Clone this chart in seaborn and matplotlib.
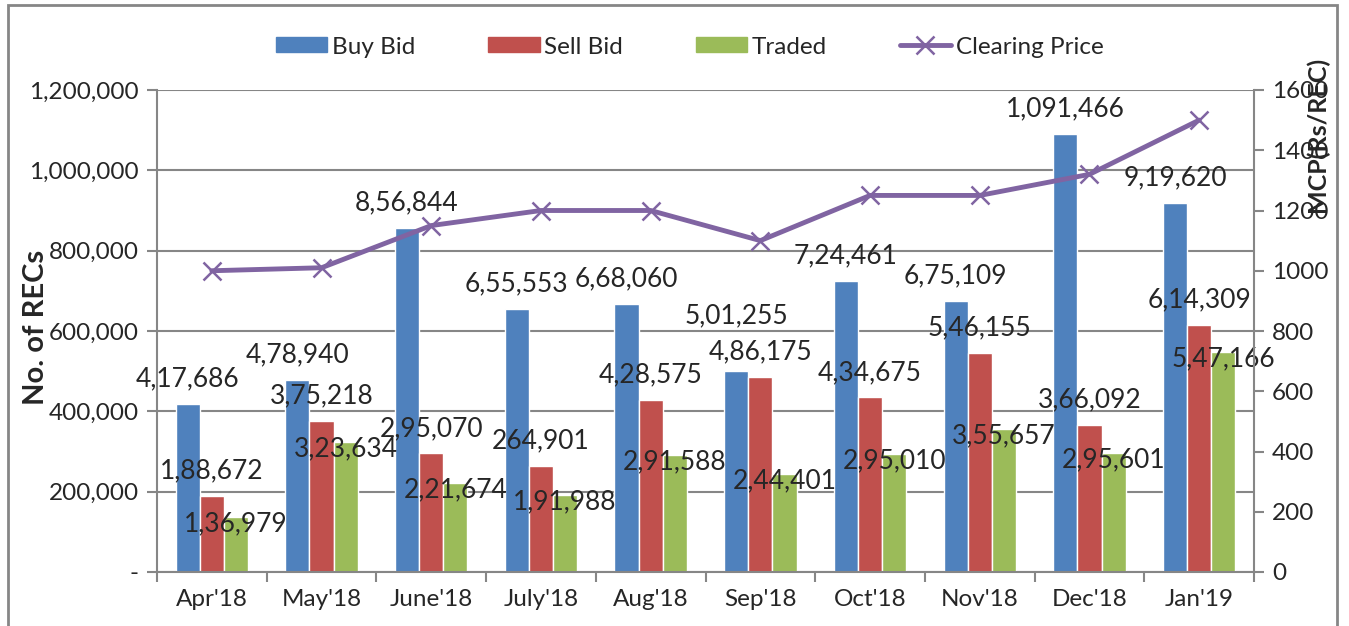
import numpy as np
import pandas as pd
import seaborn as sns
import matplotlib.pyplot as plt
from matplotlib.patches import Rectangle, Patch
from matplotlib.lines import Line2D
from matplotlib.ticker import FuncFormatter, MultipleLocator, FixedLocator

# данные по месяцам
months = ["Apr'18", "May'18", "June'18", "July'18", "Aug'18",
          "Sep'18", "Oct'18", "Nov'18", "Dec'18", "Jan'19"]
buy_bid = [417686, 478940, 856844, 655553, 668060, 501255, 724461, 675109, 1091466, 919620]
sell_bid = [188672, 375218, 295070, 264901, 428575, 486175, 434675, 546155, 366092, 614309]
traded = [136979, 323634, 221674, 191988, 291588, 244401, 295010, 355657, 295601, 547166]
clearing_price = [1000, 1010, 1150, 1200, 1200, 1100, 1250, 1250, 1320, 1500]

# подписи как на исходнике (формат разный)
buy_labels = ['4,17,686', '4,78,940', '8,56,844', '6,55,553', '6,68,060',
              '5,01,255', '7,24,461', '6,75,109', '1,091,466', '9,19,620']
sell_labels = ['1,88,672', '3,75,218', '2,95,070', '264,901', '4,28,575',
               '4,86,175', '4,34,675', '5,46,155', '3,66,092', '6,14,309']
traded_labels = ['1,36,979', '3,23,634', '2,21,674', '1,91,988', '2,91,588',
                 '2,44,401', '2,95,010', '3,55,657', '2,95,601', '5,47,166']

series = ['Buy Bid', 'Sell Bid', 'Traded']
colors = ['#4F81BD', '#C0504D', '#9BBB59']
line_color = '#8064A2'
grey = '#868686'

df = pd.DataFrame({
    'month': months * 3,
    'series': np.repeat(series, len(months)),
    'value': buy_bid + sell_bid + traded,
})

sns.set_style('white')
plt.rcParams['font.family'] = ['Lato', 'DejaVu Sans']
fs = 17.5    # оси и легенда
fs_lab = 19  # подписи столбцов

fig = plt.figure(figsize=(13.49, 6.26), dpi=100)
ax = fig.add_axes([157 / 1349, 1 - 572 / 626, (1254 - 157) / 1349, (572 - 90) / 626])

sns.barplot(data=df, x='month', y='value', hue='series', palette=colors,
            width=0.66, saturation=1, legend=False, ax=ax)

ax.set_ylim(0, 1200000)
ax.set_xlim(-0.5, len(months) - 0.5)
ax.yaxis.set_major_locator(MultipleLocator(200000))
ax.yaxis.set_major_formatter(FuncFormatter(lambda v, p: '-' if v == 0 else f'{int(v):,}'))
ax.grid(axis='y', color=grey, lw=1.5)
ax.set_axisbelow(True)
ax.set_xlabel('')
ax.set_ylabel('No. of RECs', fontsize=21, fontweight='bold')
ax.yaxis.set_label_coords(-0.0985, 0.508)

# тики между категориями
ax.xaxis.set_major_locator(FixedLocator(range(len(months))))
ax.set_xticklabels(months)
ax.xaxis.set_minor_locator(FixedLocator(np.arange(-0.5, len(months), 1)))
ax.tick_params(axis='x', which='major', length=0, pad=12, labelsize=fs)
ax.tick_params(axis='x', which='minor', length=7, color=grey, width=1.5, bottom=True)
ax.tick_params(axis='y', length=7, color=grey, width=1.5, left=True, labelsize=fs, pad=6)

for s in ['top', 'right']:
    ax.spines[s].set_visible(False)
for s in ['left', 'bottom']:
    ax.spines[s].set_color(grey)
    ax.spines[s].set_linewidth(1.5)

# подписи значений: синие и красные над столбцом, зелёные у верхнего края
# если синяя подпись налезает на красную - поднимаем её выше (как делает Excel)
pt_per_unit = (ax.transData.transform((0, 1e5))[1] - ax.transData.transform((0, 0))[1]) / 1e5 * 72 / fig.dpi
blue_c, red_c, green_c = ax.containers
for i in range(len(months)):
    gap = (buy_bid[i] - sell_bid[i]) * pt_per_unit
    blue_off = max(18, 18 + 26 - gap)
    for bar, lab, off in [(blue_c[i], buy_labels[i], blue_off),
                          (red_c[i], sell_labels[i], 18),
                          (green_c[i], traded_labels[i], -5)]:
        ax.annotate(lab, (bar.get_x() + bar.get_width() / 2, bar.get_height()),
                    xytext=(0, off), textcoords='offset points',
                    ha='center', va='center', fontsize=fs_lab)

# цена на второй оси
ax2 = ax.twinx()
sns.lineplot(x=np.arange(len(months)), y=clearing_price, color=line_color, lw=3.5,
             marker='x', markersize=13, markeredgewidth=1.8, markeredgecolor=line_color,
             ax=ax2)
ax2.set_ylim(0, 1600)
ax2.yaxis.set_major_locator(MultipleLocator(200))
ax2.tick_params(axis='y', length=7, color=grey, width=1.5, right=True, labelsize=fs, pad=6)
ax2.set_ylabel('MCP(Rs/REC)', fontsize=18, fontweight='bold')
ax2.yaxis.set_label_coords(1.0474, 0.907)
for s in ['top', 'left', 'bottom']:
    ax2.spines[s].set_visible(False)
ax2.spines['right'].set_color(grey)
ax2.spines['right'].set_linewidth(1.5)

handles = [Patch(color=c, label=n) for c, n in zip(colors, series)]
handles.append(Line2D([], [], color=line_color, lw=3.5, marker='x', markersize=13,
                      markeredgewidth=1.8, label='Clearing Price'))
fig.legend(handles=handles, loc='center', bbox_to_anchor=(0.5115, 1 - 47 / 626), ncol=4,
           frameon=False, fontsize=fs, handlelength=2.1, handleheight=0.58,
           handletextpad=0.2, columnspacing=3.0)

# рамка вокруг диаграммы
fig.patches.append(Rectangle((8 / 1349, -0.02), (1337 - 8) / 1349, 1.0 - 5 / 626 + 0.02,
                             transform=fig.transFigure, fill=False, ec=grey, lw=2))

fig.savefig('out.png', dpi=100)
